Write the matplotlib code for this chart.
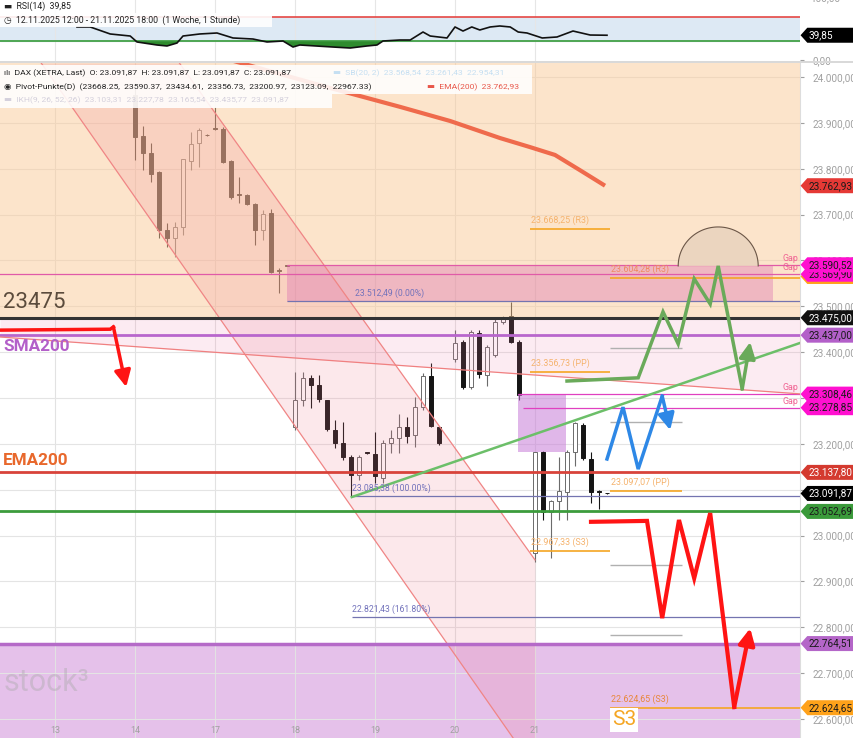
import numpy as np
import matplotlib
matplotlib.use("Agg")
import matplotlib.pyplot as plt
from matplotlib.patches import Rectangle, Polygon
from matplotlib.path import Path
from matplotlib.transforms import blended_transform_factory

plt.rcParams["font.family"] = ["Roboto", "DejaVu Sans"]

# ------------------------------------------------------------------ data
# hourly candles, x = bar index (10 bars per trading day)
bars = [16, 17, 18, 19, 20, 21, 22, 23, 24, 25,
        26, 27, 28, 29, 30, 31, 32, 33, 34, 35,
        36, 37, 38, 39, 40, 41, 42, 43, 44, 45,
        46, 47, 48, 49, 50, 51, 52, 53, 54,
        56, 57, 58, 59, 60, 61, 62, 63, 64,
        66, 67, 68, 69, 70, 71, 72, 73, 74, 75]
opens = [23960, 23871, 23834, 23793, 23666, 23649, 23673, 23817, 23856, 23874,
         23888, 23887, 23817, 23744, 23743, 23723, 23666, 23703, 23578, 23588,
         23237, 23296, 23344, 23328, 23296, 23230, 23202, 23171, 23132, 23181,
         23178, 23126, 23202, 23213, 23237, 23219, 23280, 23348, 23237,
         23385, 23422, 23324, 23442, 23350, 23394, 23466, 23479, 23422,
         22962, 23182, 23051, 23075, 23095, 23182, 23241, 23167, 23096, 23092]
highs = [23975, 23893, 23856, 23795, 23682, 23684, 23822, 23880, 23889, 23876,
         23935, 23890, 23819, 23782, 23745, 23725, 23710, 23712, 23583, 23589,
         23357, 23357, 23350, 23350, 23296, 23252, 23248, 23176, 23176, 23182,
         23226, 23209, 23230, 23265, 23259, 23302, 23354, 23376, 23239,
         23448, 23426, 23448, 23448, 23416, 23474, 23479, 23509, 23426,
         23182, 23184, 23078, 23171, 23187, 23248, 23246, 23182, 23100, 23093]
lows = [23819, 23797, 23771, 23649, 23629, 23608, 23655, 23797, 23804, 23871,
        23884, 23812, 23735, 23725, 23720, 23634, 23645, 23573, 23529, 23587,
        23230, 23283, 23278, 23291, 23228, 23191, 23165, 23085, 23121, 23178,
        23115, 23115, 23180, 23180, 23202, 23193, 23274, 23237, 23197,
        23378, 23320, 23320, 23343, 23326, 23389, 23462, 23420, 23296,
        22942, 23034, 22951, 23034, 23034, 23152, 23165, 23071, 23058, 23091]
closes = [23869, 23834, 23788, 23666, 23649, 23673, 23821, 23854, 23884, 23873,
          23887, 23815, 23738, 23743, 23723, 23666, 23701, 23575, 23577, 23588,
          23296, 23344, 23328, 23298, 23232, 23202, 23171, 23132, 23171, 23180,
          23130, 23202, 23213, 23237, 23217, 23280, 23348, 23239, 23202,
          23420, 23324, 23444, 23352, 23411, 23466, 23474, 23422, 23307,
          23182, 23051, 23076, 23097, 23182, 23245, 23169, 23095, 23095, 23092]

day_starts = [6, 16, 26, 36, 46, 56, 66]
day_labels = ["13", "14", "17", "18", "19", "20", "21"]

rsi_x = [8.75, 10.4, 12.9, 15.4, 16.25, 18.75, 20, 21.25, 22, 24.1, 26.25, 28.25,
         30.75, 32.5, 34.5, 35.75, 36.6, 40.75, 42.9, 45, 46.25, 47, 49.1, 50.4,
         52, 52.9, 55, 56, 57, 58.1, 59.1, 60.4, 61.6, 62.9, 63.9, 65, 66.9,
         68.75, 70.75, 72.9, 75]
rsi_v = [53.3, 53.3, 41.9, 38.6, 28.9, 24.0, 22.4, 27.2, 38.6, 41.9, 43.5, 35.4,
         33.7, 28.9, 30.5, 20.7, 24.0, 20.7, 19.1, 22.4, 24.0, 30.5, 32.1, 32.1,
         45.1, 38.6, 35.4, 53.3, 46.7, 53.3, 48.4, 53.3, 54.9, 53.3, 45.1, 43.5,
         35.4, 37.0, 46.7, 40.2, 39.85]

ema_x = [27.9, 40.4, 49.1, 55.4, 61.6, 65.4, 68.5, 71.6, 74.75]
ema_v = [24037, 23976, 23935, 23904, 23867, 23847, 23830, 23797, 23762.93]

# key levels
res_23475 = 23475.00
sma200 = 23437.00
ema200 = 23137.80
green_lvl = 23052.69
purple_lvl = 22764.51
last_close = 23091.87
gap_hi, gap_lo, gap_box_lo = 23590.52, 23569.90, 23510.0
gap2_hi, gap2_lo = 23308.46, 23278.85
fvg_lo = 23182.0
fib_levels = [23512.49, 23085.38, 22821.43]
fib_texts = ["23.512,49 (0.00%)", "23.085,38 (100.00%)", "22.821,43 (161.80%)"]

# pivot segments: (x0, x1, level, label, label colour)
pivots = [(65.4, 75.4, 23668.25, "23.668,25 (R3)", "#f5b36e"),
          (65.4, 75.4, 23356.73, "23.356,73 (PP)", "#f5b36e"),
          (65.4, 75.4, 22967.33, "22.967,33 (S3)", "#f5b36e"),
          (75.4, 99.2, 23562.0, "23.604,28 (R3)", "#ef8a62"),
          (75.4, 84.4, 23097.07, "23.097,07 (PP)", "#f5b36e"),
          (75.4, 99.2, 22624.65, "22.624,65 (S3)", "#e8873a")]
grey_pivots = [23409, 23248, 22936, 22783]

# channel anchors (bar, price)
chan_low = [(7.5, 23950), (63.25, 22559)]
chan_up = [(25.75, 23928), (66.0, 22947)]
chan_end = 66.0
down_line = [(-0.875, 23433), (99.125, 23309)]
up_line = [(43.1, 23084), (99.125, 23420)]

# scenario paths
green_path = [(70, 23337), (78.9, 23344), (82, 23488), (83.9, 23418), (85.9, 23560),
              (87.9, 23505), (88.9, 23588), (91.9, 23320), (92.9, 23422)]
blue_path = [(75, 23167), (77, 23280), (78.9, 23145), (81.9, 23304), (82.9, 23230)]
red_path = [(73, 23030), (80, 23032), (81.9, 22820), (84, 23034), (85.9, 22907),
            (87.9, 23049), (90.9, 22626), (92.9, 22798)]
left_arrow = [(-0.875, 23448), (12.9, 23450), (13.3, 23455), (14.9, 23324)]

# price tags on the right: (level, text, bg, fg)
tags = [(23762.93, "23.762,93", "#e53935", "#1a1a1a"),
        (23565.0, "23.569,90", "#ffa21a", "#ffa21a"),
        (23569.90, "23.569,90", "#ff10d0", "#1a1a1a"),
        (23590.52, "23.590,52", "#ff10d0", "#1a1a1a"),
        (23475.00, "23.475,00", "#111111", "#ffffff"),
        (23437.00, "23.437,00", "#b35fc9", "#1a1a1a"),
        (23308.46, "23.308,46", "#ff10d0", "#1a1a1a"),
        (23278.85, "23.278,85", "#ff10d0", "#1a1a1a"),
        (23137.80, "23.137,80", "#d43a2f", "#ffffff"),
        (23091.87, "23.091,87", "#000000", "#ffffff"),
        (23052.69, "23.052,69", "#3a9a3a", "#1a1a1a"),
        (22764.51, "22.764,51", "#b466c8", "#1a1a1a"),
        (22624.65, "22.624,65", "#ffa21a", "#1a1a1a")]

X0, X1 = -0.875, 99.125
P_TOP, P_BOT = 24030.5, 22558.6


def de(v):
    return f"{v:,.2f}".replace(",", " ").replace(".", ",").replace(" ", ".")


def tag_box(x0, y0, width, height, mutation_size):
    pad = 0.25 * mutation_size
    x0, y0 = x0 - pad * 0.6, y0 - pad
    width, height = width + pad * 0.6 + 40, height + 2 * pad
    tip = 0.45 * height
    verts = [(x0 - tip, y0 + height / 2), (x0, y0 + height), (x0 + width, y0 + height),
             (x0 + width, y0), (x0, y0), (x0 - tip, y0 + height / 2)]
    codes = [Path.MOVETO] + [Path.LINETO] * 4 + [Path.CLOSEPOLY]
    return Path(verts, codes)


def tag(axis, level, text, bg, fg, z=20):
    tr = blended_transform_factory(axis.transAxes, axis.transData)
    axis.text(1.011, level, text, transform=tr, ha="left", va="center", fontsize=7.2,
              color=fg, clip_on=False, zorder=z,
              bbox=dict(boxstyle=tag_box, fc=bg, ec="none"))


def line_at(pts, x):
    (xa, ya), (xb, yb) = pts
    return ya + (yb - ya) * (np.asarray(x) - xa) / (xb - xa)


def draw_path(axis, pts, color, lw):
    xs, ys = zip(*pts)
    axis.plot(xs[:-1], ys[:-1], color=color, lw=lw, solid_joinstyle="miter", zorder=7)
    axis.annotate("", xy=pts[-1], xytext=pts[-2], zorder=7,
                  arrowprops=dict(arrowstyle="-|>,head_length=0.7,head_width=0.35",
                                  color=color, lw=lw, shrinkA=0, shrinkB=0,
                                  mutation_scale=14))


fig = plt.figure(figsize=(8.54, 7.38), dpi=100)
fig.patch.set_facecolor("white")
AW = 800 / 854

# ------------------------------------------------------------------ RSI panel
ax_r = fig.add_axes([0, 676 / 738, AW, 62 / 738])
ax_r.set_xlim(X0, X1)
ax_r.set_ylim(-3.66, 97.15)
ax_r.axhspan(30, 70, color="#dde9f4", zorder=0)
for d in day_starts:
    ax_r.axvline(d, color="#e6e6e6", lw=0.8, zorder=0.5)
ax_r.axhline(70, color="#e53935", lw=1.1, zorder=2)
ax_r.axhline(30, color="#43a047", lw=1.3, zorder=2)
rx, rv = np.array(rsi_x), np.array(rsi_v)
ax_r.fill_between(rx, rv, 30, where=rv < 30, interpolate=True, color="#2e8b2e", zorder=2.5, lw=0)
ax_r.plot(rx, rv, color="#111111", lw=1.2, zorder=3)
ax_r.set_xticks([])
ax_r.yaxis.tick_right()
ax_r.set_yticks([0])
ax_r.set_yticklabels(["0,00"])
ax_r.tick_params(axis="y", length=3, pad=6, labelsize=7.2, colors="#a0a0a0")
trr = blended_transform_factory(ax_r.transAxes, ax_r.transData)
ax_r.text(1.0125, 100, "100,00", transform=trr, ha="left", va="center", fontsize=7.2,
          color="#a0a0a0", clip_on=False)
for s in ax_r.spines.values():
    s.set_visible(False)
tag(ax_r, 39.85, "39,85", "#000000", "#ffffff")

# ------------------------------------------------------------------ price panel
ax = fig.add_axes([0, 0, AW, 675 / 738])
ax.set_xlim(X0, X1)
ax.set_ylim(P_BOT, P_TOP)
ax.set_facecolor("white")

# grid
for d in day_starts:
    ax.axvline(d, color="#e2e2e2", lw=0.8, zorder=1)
for lv in range(22600, 24100, 100):
    ax.axhline(lv, color="#e4e4e4", lw=0.8, zorder=1)

# bottom purple zone
ax.axhspan(P_BOT, purple_lvl, color="#e5c1ea", zorder=0.5)

# candles
b = np.array(bars)
o, h, l, c = map(np.array, (opens, highs, lows, closes))
up = c > o
ax.vlines(b[up], l[up], h[up], color="#6b6b6b", lw=0.8, zorder=2)
ax.vlines(b[~up], l[~up], h[~up], color="#151515", lw=0.8, zorder=2)
body_lo = np.minimum(o, c)
body_h = np.maximum(np.abs(c - o), 1.2)
ax.bar(b[up], body_h[up], bottom=body_lo[up], width=0.62, color="white",
       edgecolor="#6b6b6b", lw=0.7, zorder=2.2)
ax.bar(b[~up], body_h[~up], bottom=body_lo[~up], width=0.62, color="#151515",
       edgecolor="#151515", lw=0.7, zorder=2.2)

# translucent zones on top of candles
ax.axhspan(res_23475, P_TOP, color="#fbcb99", alpha=0.5, lw=0, zorder=3)
xx = np.linspace(X0, X1, 50)
ax.fill_between(xx, line_at(down_line, xx), res_23475, color="#f07aa8", alpha=0.15,
                lw=0, zorder=3)
cx_start = chan_low[0][0] + (P_TOP - chan_low[0][1]) * (chan_low[1][0] - chan_low[0][0]) / (chan_low[1][1] - chan_low[0][1])
cx = np.linspace(cx_start, chan_end, 200)
ax.fill_between(cx, line_at(chan_low, cx), np.minimum(line_at(chan_up, cx), P_TOP),
                color="#f0788c", alpha=0.17, lw=0, zorder=3)
ax.plot(cx, line_at(chan_up, cx), color="#f08585", lw=0.9, zorder=3.5)
lx = np.linspace(cx_start, 70, 100)
ax.plot(lx, line_at(chan_low, lx), color="#f08585", lw=0.9, zorder=3.5)
ax.add_patch(Rectangle((35, gap_box_lo), 95.75 - 35, gap_hi - gap_box_lo,
                       color="#d764af", alpha=0.35, lw=0, zorder=3))
ax.add_patch(Rectangle((63.9, fvg_lo), 69.9 - 63.9, gap2_hi - fvg_lo,
                       color="#c77dd8", alpha=0.55, lw=0, zorder=3))

# horizontal levels
ax.axhline(gap_lo, color="#e05aa8", lw=0.9, zorder=4)
ax.hlines(gap_hi, 35, X1, color="#e05aa8", lw=0.9, zorder=4)
ax.hlines(gap2_hi, 63.9, X1, color="#e040c0", lw=0.9, zorder=4)
ax.hlines(gap2_lo, 64.5, X1, color="#e040c0", lw=0.9, zorder=4)
ax.axhline(res_23475, color="#333333", lw=2.2, zorder=4)
ax.axhline(sma200, color="#b866cc", lw=2.0, zorder=4)
ax.axhline(ema200, color="#d8433a", lw=2.0, zorder=4)
ax.axhline(green_lvl, color="#3c9c3c", lw=2.0, zorder=4)
ax.axhline(purple_lvl, color="#b56ac8", lw=2.5, zorder=4)
ax.plot(xx, line_at(down_line, xx), color="#f08080", lw=0.9, zorder=4)
ux = np.linspace(up_line[0][0], X1, 20)
ax.plot(ux, line_at(up_line, ux), color="#6cbf69", lw=1.8, zorder=4.5)
for k, (lv, txt) in enumerate(zip(fib_levels, fib_texts)):
    ax.hlines(lv, 35 if k == 0 else 43.1, X1, color="#7474b0", lw=0.9, zorder=4)
    ax.text(43.5 if k == 0 else 43.1, lv + 17, txt, fontsize=6.2, color="#7272bb",
            va="center", ha="left", zorder=6)
for x0_, x1_, lv, txt, col in pivots:
    ax.hlines(lv, x0_, x1_, color="#f5a623", lw=1.2, zorder=4)
    ax.text(x0_ + 0.05, lv + 19, txt, fontsize=6.4, color=col, va="center", ha="left", zorder=6)
for lv in grey_pivots:
    ax.hlines(lv, 75.4, 84.4, color="#b0b0b0", lw=1.0, zorder=4)

# EMA(200) curve
ax.plot(ema_x, ema_v, color="#ef6a4c", lw=3, zorder=5, solid_capstyle="butt")

# dome
t = np.linspace(0, np.pi, 60)
dx, dy_ = 88.9 + 5.0 * np.cos(t), 23588 + 85 * np.sin(t)
ax.add_patch(Polygon(np.column_stack([dx, dy_]), closed=True, fc="#ebd5bf", ec="none", zorder=4.6))
ax.plot(dx, dy_, color="#6b5647", lw=0.8, zorder=4.7)

# scenario paths
draw_path(ax, green_path, "#6aaa5a", 2.5)
draw_path(ax, blue_path, "#2e88e6", 2.5)
draw_path(ax, red_path, "#ff1414", 3.0)
draw_path(ax, left_arrow, "#ff1414", 2.5)

# gap labels
for lv in (23605, 23584, 23322, 23293):
    ax.text(98.9, lv, "Gap", fontsize=6.4, color="#f06292", ha="right", va="center", zorder=6)

# left annotations
ax.text(-0.5, 23509, "23475", fontsize=16, color="#5b4b3c", ha="left", va="center", zorder=6)
ax.text(-0.5, 23413, "SMA200", fontsize=12.3, fontweight="bold", color="#b35fc9",
        ha="left", va="center", zorder=6)
ax.text(-0.5, 23163, "EMA200", fontsize=12.3, fontweight="bold", color="#e8682c",
        ha="left", va="center", zorder=6)
ax.text(75.6, 22598, "S3", fontsize=15, color="#f5a623", ha="left", va="center", zorder=6,
        bbox=dict(boxstyle="square,pad=0.1", fc="white", ec="none"))
ax.text(-0.4, 22680, "stock³", fontsize=22, color="#a8a8a8", alpha=0.4,
        ha="left", va="center", zorder=6)

# day labels
trx = blended_transform_factory(ax.transData, ax.transAxes)
for d, lab in zip(day_starts, day_labels):
    ax.text(d, 0.011, lab, transform=trx, fontsize=6.5, color="#a0a0a0",
            ha="center", va="center", zorder=6)

# axis
ax.set_xticks([])
ax.yaxis.tick_right()
ax.set_yticks(range(22600, 24100, 100))
ax.set_yticklabels([de(v) for v in range(22600, 24100, 100)])
ax.tick_params(axis="y", length=3, pad=6, labelsize=7.2, colors="#a0a0a0")
for s in ax.spines.values():
    s.set_visible(False)
ax.spines["right"].set_visible(True)
ax.spines["right"].set_color("#dddddd")

for k, (lv, txt, bg, fg) in enumerate(tags):
    tag(ax, lv, txt, bg, fg, z=20 + k)

# ------------------------------------------------------------------ legends
def fpx(x, y):
    return x / 854, 1 - y / 738


fig.add_artist(Rectangle(fpx(0, 62.5), 1, 1 / 738 * 1.5, transform=fig.transFigure,
                         color="#d9d9d9", lw=0))
fig.add_artist(Rectangle(fpx(0, 13), 80 / 854, 13 / 738, transform=fig.transFigure,
                         fc="white", alpha=0.9, lw=0))
fig.add_artist(Rectangle(fpx(0, 27), 272 / 854, 14 / 738, transform=fig.transFigure,
                         fc="white", alpha=0.9, lw=0))
fig.add_artist(Rectangle(fpx(0, 94), 532 / 854, 29 / 738, transform=fig.transFigure,
                         fc="white", alpha=0.88, lw=0))
fig.add_artist(Rectangle(fpx(0, 108), 332 / 854, 14 / 738, transform=fig.transFigure,
                         fc="white", alpha=0.88, lw=0))

fs = 6.1
fig.text(*fpx(4, 6.5), "▬  RSI(14)  39,85", fontsize=6.3, color="#222222", va="center")
fig.text(*fpx(4, 20), "◷  12.11.2025 12:00 - 21.11.2025 18:00  (1 Woche, 1 Stunde)",
         fontsize=6.3, color="#222222", va="center")
fig.text(*fpx(4, 73), "ılı  DAX (XETRA, Last)  O: 23.091,87  H: 23.091,87  L: 23.091,87  C: 23.091,87",
         fontsize=fs, color="#222222", va="center")
fig.text(*fpx(333, 73), "▬  SB(20, 2)  23.568,54  23.261,43  22.954,31",
         fontsize=fs, color="#c5dff2", va="center")
fig.text(*fpx(4, 87), "◉  Pivot-Punkte(D)  (23668.25,  23590.37,  23434.61,  23356.73,  23200.97,  23123.09,  22967.33)",
         fontsize=fs, color="#222222", va="center")
fig.text(*fpx(427, 87), "▬  EMA(200)  23.762,93", fontsize=fs, color="#e8574a", va="center")
fig.text(*fpx(4, 100), "▬  IKH(9, 26, 52, 26)  23.103,31  23.227,78  23.165,54  23.435,77  23.091,87",
         fontsize=fs, color="#d4d0dc", va="center")

fig.savefig("out.png", dpi=100)
